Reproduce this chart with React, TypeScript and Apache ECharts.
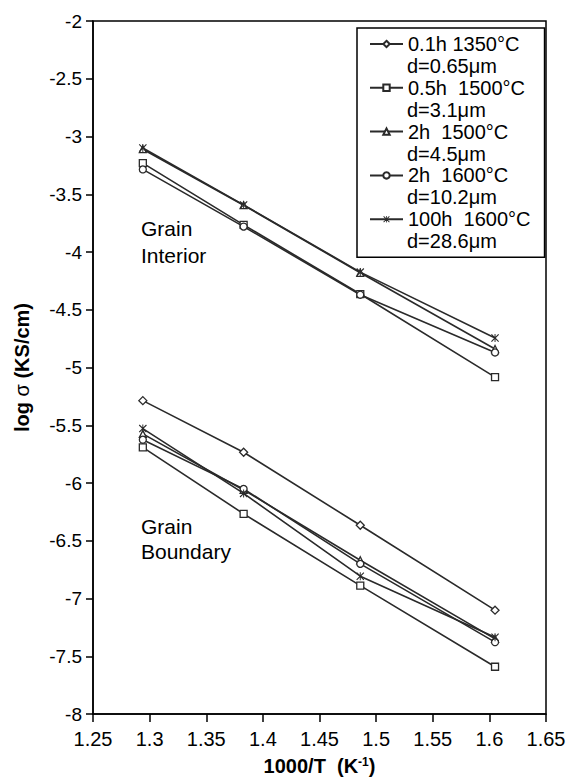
import React, { useEffect, useRef } from "react";
import * as echarts from "echarts";

// x positions (1000/T, K^-1)
const xVals = [1.294, 1.383, 1.486, 1.605];

// legend / series names and second legend lines
const seriesNames = ["0.1h 1350°C", "0.5h  1500°C", "2h  1500°C", "2h  1600°C", "100h  1600°C"];
const grainSizes = ["d=0.65μm", "d=3.1μm", "d=4.5μm", "d=10.2μm", "d=28.6μm"];
const symbols = ["diamond", "rect", "triangle", "circle", "path://M0,1L1,0L5,4L9,0L10,1L6,5L10,9L9,10L5,6L1,10L0,9L4,5Z M4.4,0L5.6,0L5.6,10L4.4,10Z"];

// grain interior log sigma (null = no data)
const interior0 = null;
const interior1 = [-3.23, -3.765, -4.364, -5.083];
const interior2 = [-3.11, -3.595, -4.18, -4.84];
const interior3 = [-3.285, -3.78, -4.37, -4.87];
const interior4 = [-3.1, -3.592, -4.174, -4.745];

// grain boundary log sigma
const boundary0 = [-5.287, -5.734, -6.366, -7.101];
const boundary1 = [-5.691, -6.267, -6.888, -7.591];
const boundary2 = [-5.575, -6.06, -6.669, -7.35];
const boundary3 = [-5.625, -6.051, -6.7, -7.378];
const boundary4 = [-5.529, -6.09, -6.807, -7.335];

const interiorData = [interior0, interior1, interior2, interior3, interior4];
const boundaryData = [boundary0, boundary1, boundary2, boundary3, boundary4];

const FONT = "'Liberation Sans', Arial, sans-serif";
const LINE = "#2a2a2a";

export default function App() {
  const ref = useRef<HTMLDivElement>(null);
  useEffect(() => {
    if (!ref.current) return;
    const chart = echarts.init(ref.current, null, { renderer: "svg" });

    const series: any[] = [];
    const mk = (name: string, vals: number[], idx: number) => {
      const isCross = idx === 4;
      return {
        name,
        type: "line",
        data: xVals.map((x, i) => [x, vals[i]]),
        symbol: symbols[idx],
        symbolSize: isCross ? 8 : idx === 0 ? 8 : 7,
        showSymbol: true,
        lineStyle: { color: LINE, width: 1.6 },
        itemStyle: isCross
          ? { color: LINE, borderWidth: 0 }
          : { color: "#fff", borderColor: LINE, borderWidth: 1.3 },
        emphasis: { disabled: true },
        z: 3,
      };
    };
    interiorData.forEach((v, i) => {
      if (v) series.push(mk(seriesNames[i], v, i));
    });
    boundaryData.forEach((v, i) => {
      series.push(mk(seriesNames[i], v, i));
    });

    const legendLeft = 357;
    const legendPadTop = 5;
    const legendPadLeft = 12;
    const itemW = 33;
    const lineH = 22;
    const gap = 21.8;
    const firstCenter = 28 + legendPadTop + lineH / 2;

    const dTexts = grainSizes.map((t, i) => ({
      type: "text",
      x: legendLeft + legendPadLeft + itemW + 5,
      y: firstCenter + lineH + i * (lineH + gap),
      z: 10,
      style: { text: t, fontSize: 20, fontFamily: FONT, fill: "#000", verticalAlign: "middle" },
    }));

    chart.setOption({
      animation: false,
      backgroundColor: "#fff",
      grid: {
        left: 93,
        right: 24,
        top: 21,
        bottom: 69,
        show: true,
        borderColor: "#000",
        borderWidth: 1.5,
        backgroundColor: "transparent",
      },
      xAxis: {
        type: "value",
        min: 1.25,
        max: 1.65,
        interval: 0.05,
        splitLine: { show: false },
        axisLine: { lineStyle: { color: "#000", width: 1.5 } },
        axisTick: { length: 8, lineStyle: { color: "#000", width: 1.5 } },
        axisLabel: { color: "#000", fontSize: 20, fontFamily: FONT, margin: 15 },
        name: "1000/T  (K{sup|-1})",
        nameLocation: "middle",
        nameGap: 42,
        nameTextStyle: {
          color: "#000",
          fontSize: 20,
          fontWeight: "bold",
          fontFamily: FONT,
          rich: {
            sup: { fontSize: 12, fontWeight: "bold", fontFamily: FONT, color: "#000", verticalAlign: "top" },
          },
        },
      },
      yAxis: {
        type: "value",
        min: -8,
        max: -2,
        interval: 0.5,
        splitLine: { show: false },
        axisLine: { show: true, lineStyle: { color: "#000", width: 1.5 } },
        axisTick: { show: true, length: 7, lineStyle: { color: "#000", width: 1.5 } },
        axisLabel: { color: "#000", fontSize: 19, fontFamily: FONT, margin: 11 },
        name: "log {s|σ} (KS/cm)",
        nameLocation: "middle",
        nameGap: 61,
        nameTextStyle: {
          color: "#000",
          fontSize: 20,
          fontWeight: "bold",
          fontFamily: FONT,
          rich: { s: { fontSize: 20, fontWeight: "normal", fontFamily: FONT, color: "#000" } },
        },
      },
      legend: {
        orient: "vertical",
        left: legendLeft,
        top: 28,
        padding: [legendPadTop, 14, 27, legendPadLeft],
        itemWidth: itemW,
        itemHeight: 8,
        itemGap: gap,
        borderColor: "#000",
        borderWidth: 1.5,
        backgroundColor: "#fff",
        selectedMode: false,
        data: seriesNames,
        textStyle: {
          color: "#000",
          fontSize: 20,
          fontFamily: FONT,
          lineHeight: lineH,
        },
      },
      graphic: [
        {
          type: "text",
          left: 141,
          top: 215,
          style: { text: "Grain\nInterior", fontSize: 21, fontFamily: FONT, fill: "#000", lineHeight: 27 },
        },
        {
          type: "text",
          left: 141,
          top: 514,
          style: { text: "Grain\nBoundary", fontSize: 21, fontFamily: FONT, fill: "#000", lineHeight: 25 },
        },
        ...dTexts,
      ],
      series,
    });
    return () => chart.dispose();
  }, []);
  return <div ref={ref} style={{ position: "absolute", left: 0, top: 0, width: 570, height: 783 }} />;
}
